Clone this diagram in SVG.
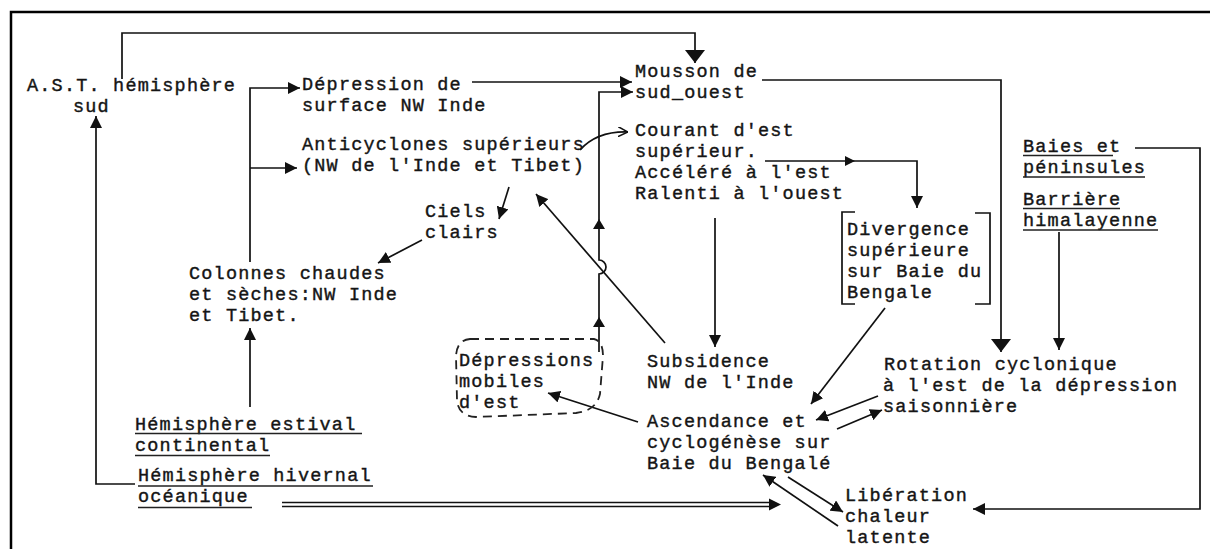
<svg xmlns="http://www.w3.org/2000/svg" width="1210" height="549" viewBox="0 0 1210 549">
<defs>
<style>
text{font-family:"Liberation Mono","Courier New",monospace;font-size:18.5px;letter-spacing:1.2px;fill:#151515;stroke:#151515;stroke-width:0.4;}
.ln{fill:none;stroke:#111;stroke-width:1.7;}
.ul{fill:none;stroke:#222;stroke-width:1.5;}
.dash{fill:none;stroke:#222;stroke-width:1.8;stroke-dasharray:9,6;}
.ah{fill:#111;}
</style>
<marker id="a" viewBox="0 0 12 12" markerWidth="12" markerHeight="12" refX="12" refY="6" orient="auto" markerUnits="userSpaceOnUse"><path d="M0,0 L12,6 L0,12 z" fill="#111"/></marker>
<marker id="b" viewBox="0 0 13 20" markerWidth="13" markerHeight="20" refX="13" refY="10" orient="auto" markerUnits="userSpaceOnUse"><path d="M0,0 L13,10 L0,20 z" fill="#111"/></marker>
<marker id="o" viewBox="0 0 10 10" markerWidth="10" markerHeight="10" refX="10" refY="5" orient="auto" markerUnits="userSpaceOnUse"><path d="M0,0 L10,5 L0,10" fill="none" stroke="#111" stroke-width="1.5"/></marker>
</defs>
<rect width="1210" height="549" fill="#fff"/>
<path d="M11,549 V12 H1210" fill="none" stroke="#000" stroke-width="2.5"/>

<g id="connectors">
<path class="ln" d="M122,79 V33 H695 V63" marker-end="url(#b)"/>
<path class="ln" d="M250,262 V88 H300" marker-end="url(#a)"/>
<path class="ln" d="M250,168 H297" marker-end="url(#a)"/>
<path class="ln" d="M250,407 V328" marker-end="url(#a)"/>
<path class="ln" d="M135,484 H96 V116" marker-end="url(#a)"/>
<path class="ln" d="M472,82 H632" marker-end="url(#a)"/>
<path class="ln" d="M599,352 V274 A7,7 0 0 0 599,260 V92 H633" marker-end="url(#a)"/>
<path class="ah" d="M599,219 L593,229 L605,229 z"/>
<path class="ah" d="M599,317 L593,327 L605,327 z"/>
<path class="ln" d="M580,150 Q597,131 628,132" marker-end="url(#o)"/>
<path class="ln" d="M509,187 L499,219" marker-end="url(#a)"/>
<path class="ln" d="M665,343 L536,194" marker-end="url(#a)"/>
<path class="ln" d="M422,240 L378,263" marker-end="url(#a)"/>
<path class="ln" d="M762,80 H1001 V352" marker-end="url(#b)"/>
<path class="ln" d="M765,161 H917 V208" marker-end="url(#a)"/>
<path class="ah" d="M855,161 L845,156 L845,166 z"/>
<path class="ln" d="M715,218 V347" marker-end="url(#a)"/>
<path class="ln" d="M1059,232 V350" marker-end="url(#a)"/>
<path class="ln" d="M1135,148 H1200 V509 H973" marker-end="url(#a)"/>
<path class="ln" d="M885,308 L811,404" marker-end="url(#a)"/>
<path class="ln" d="M878,396 L816,420" marker-end="url(#a)"/>
<path class="ln" d="M837,429 L882,410" marker-end="url(#a)"/>
<path class="ln" d="M838,526 L763,475" marker-end="url(#a)"/>
<path class="ln" d="M788,477 L843,512" marker-end="url(#a)"/>
<path class="ln" d="M638,422 L548,393" marker-end="url(#a)"/>
<path class="ln" d="M282,502.5 H771 M282,506.5 H771"/>
<path class="ah" d="M781,504.5 L769,498.5 L769,510.5 z"/>
</g>

<g id="n-ast"><text x="27" y="91">A.S.T. hémisphère<tspan x="73" y="112">sud</tspan></text></g>
<g id="n-depression"><text x="302" y="90">Dépression de<tspan x="302" y="111">surface NW Inde</tspan></text></g>
<g id="n-anticyclones"><text x="302" y="150">Anticyclones supérieurs<tspan x="302" y="171">(NW de l'Inde et Tibet)</tspan></text></g>
<g id="n-ciels"><text x="425" y="217">Ciels<tspan x="425" y="238">clairs</tspan></text></g>
<g id="n-colonnes"><text x="189" y="279">Colonnes chaudes<tspan x="189" y="300">et sèches:NW Inde</tspan><tspan x="189" y="321">et Tibet.</tspan></text></g>
<g id="n-estival"><text x="135" y="430">Hémisphère estival<tspan x="135" y="451">continental</tspan></text>
<path class="ul" d="M135,433.5 H362 M135,455.5 H270"/></g>
<g id="n-hivernal"><text x="138" y="481">Hémisphère hivernal<tspan x="138" y="502">océanique</tspan></text>
<path class="ul" d="M138,486 H373 M138,507.5 H252"/></g>
<g id="n-mousson"><text x="635" y="77">Mousson de<tspan x="635" y="98">sud_ouest</tspan></text></g>
<g id="n-courant"><text x="635" y="136">Courant d'est<tspan x="635" y="157">supérieur.</tspan><tspan x="635" y="178">Accéléré à l'est</tspan><tspan x="635" y="199">Ralenti à l'ouest</tspan></text></g>
<g id="n-divergence"><text x="847" y="235">Divergence<tspan x="847" y="256">supérieure</tspan><tspan x="847" y="277">sur Baie du</tspan><tspan x="847" y="298">Bengale</tspan></text>
<path class="ln" d="M855,212 H842 V304 H855 M975,213 H990 V304 H975"/></g>
<g id="n-baies"><text x="1023" y="152">Baies et<tspan x="1023" y="173">péninsules</tspan></text>
<path class="ul" d="M1023,155.5 H1113 M1023,177 H1145"/></g>
<g id="n-barriere"><text x="1023" y="205">Barrière<tspan x="1023" y="226">himalayenne</tspan></text>
<path class="ul" d="M1023,208.5 H1120 M1023,230 H1158"/></g>
<g id="n-depmobiles"><text x="459" y="366">Dépressions<tspan x="459" y="387">mobiles</tspan><tspan x="459" y="408">d'est</tspan></text>
<path class="dash" d="M470,339 L594,339 Q603,341 603,356 L600,394 Q596,411 576,413 L476,417 Q458,416 457,400 L456,356 Q457,340 470,339 Z"/></g>
<g id="n-subsidence"><text x="647" y="367">Subsidence<tspan x="647" y="388">NW de l'Inde</tspan></text></g>
<g id="n-rotation"><text x="884" y="370">Rotation cyclonique<tspan x="883" y="391">à l'est de la dépression</tspan><tspan x="883" y="412">saisonnière</tspan></text></g>
<g id="n-ascendance"><text x="647" y="427">Ascendance et<tspan x="647" y="448">cyclogénèse sur</tspan><tspan x="647" y="469">Baie du Bengalé</tspan></text></g>
<g id="n-liberation"><text x="845" y="501">Libération<tspan x="845" y="522">chaleur</tspan><tspan x="845" y="543">latente</tspan></text></g>
</svg>
